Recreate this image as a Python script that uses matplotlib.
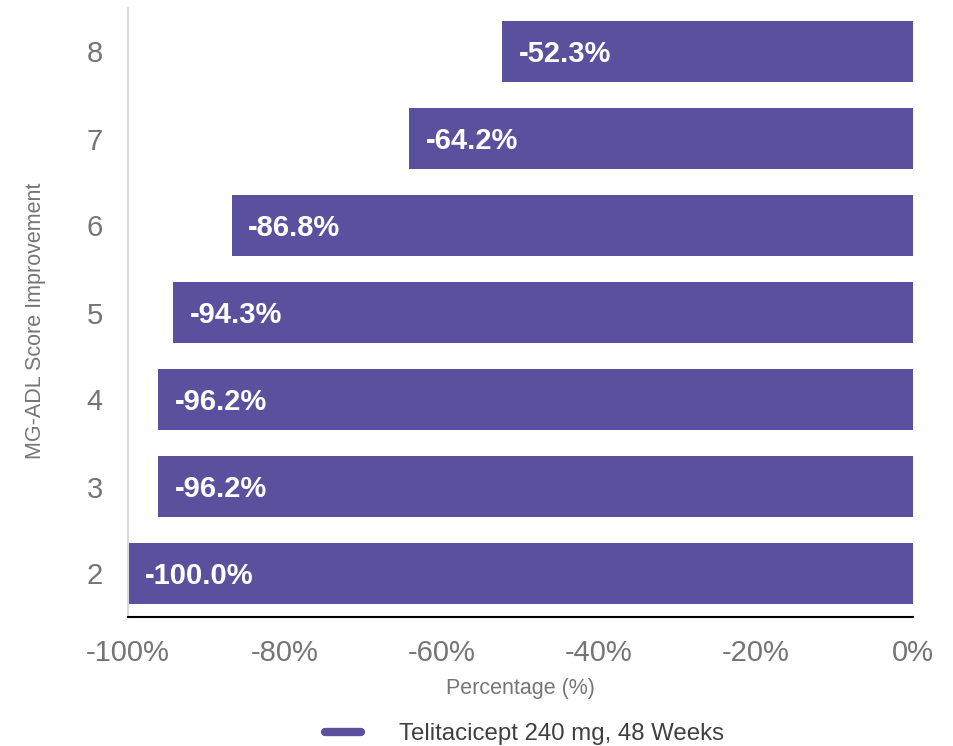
import matplotlib
matplotlib.use("Agg")
import matplotlib.pyplot as plt
from matplotlib.lines import Line2D

plt.rcParams['font.family'] = ['Liberation Sans', 'DejaVu Sans']

# MG-ADL score improvement thresholds and response percentages
categories = ["2", "3", "4", "5", "6", "7", "8"]
values = [-100.0, -96.2, -96.2, -94.3, -86.8, -64.2, -52.3]
series_name = "Telitacicept 240 mg, 48 Weeks"
x_ticks = [-100, -80, -60, -40, -20, 0]
x_tick_labels = ["-100%", "-80%", "-60%", "-40%", "-20%", "0%"]

bar_color = "#5A509E"
text_gray = "#757575"

fig = plt.figure(figsize=(9.54, 7.46), dpi=100)
ax = fig.add_axes([128 / 954, (746 - 617) / 746, (913 - 128) / 954, (617 - 8) / 746])

ypos = list(range(len(categories)))
ax.barh(ypos, values, height=0.7, color=bar_color, zorder=2)

for y, v in zip(ypos, values):
    ax.annotate(f"{v:.1f}%", xy=(v, y), xytext=(12, -1.5), textcoords="offset points",
                ha="left", va="center", color="white", fontsize=21, fontweight="bold", zorder=3)

ax.set_xlim(-100, 0)
ax.set_ylim(-0.5, len(categories) - 0.5)
ax.set_xticks(x_ticks)
ax.set_xticklabels(x_tick_labels)
ax.set_yticks(ypos)
ax.set_yticklabels(categories)
ax.tick_params(axis="both", length=0, labelsize=21, labelcolor=text_gray)
ax.tick_params(axis="x", pad=16)
ax.tick_params(axis="y", pad=18)

for s in ["top", "right"]:
    ax.spines[s].set_visible(False)
ax.spines["left"].set_color("#D9D9D9")
ax.spines["left"].set_linewidth(1.5)
ax.spines["bottom"].set_color("#000000")
ax.spines["bottom"].set_linewidth(1.5)

ax.set_xlabel("Percentage (%)", fontsize=15.5, color=text_gray, labelpad=8)
ax.set_ylabel("MG-ADL Score Improvement", fontsize=15.5, color=text_gray)
ax.yaxis.set_label_coords(-0.104, 0.486)

handle = Line2D([0], [0], color=bar_color, linewidth=6, solid_capstyle="round")
fig.legend([handle], [series_name], loc="center", bbox_to_anchor=(524.5 / 954, 12 / 746),
           frameon=False, fontsize=17.3, handlelength=1.5, handletextpad=1.6,
           labelcolor="#404040", borderpad=0, borderaxespad=0)

fig.savefig("out.png", dpi=100)
